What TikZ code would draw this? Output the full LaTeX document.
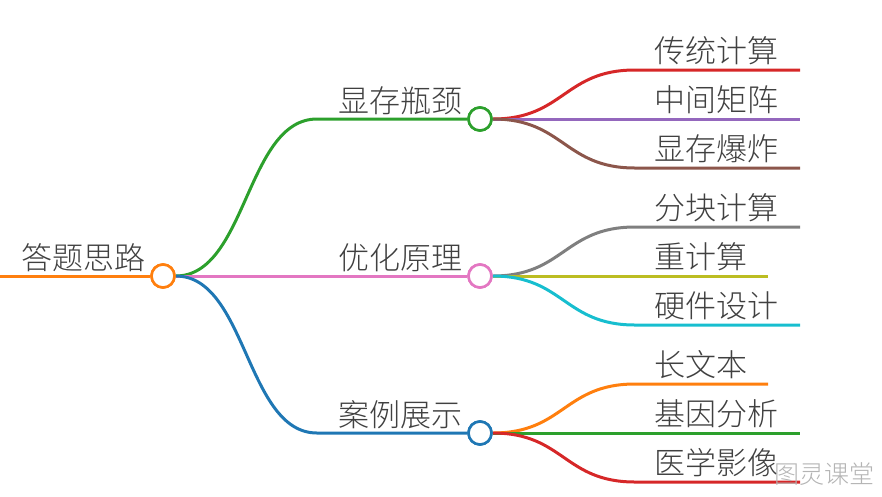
\documentclass[tikz,border=0pt]{standalone}
\usepackage{fontspec}
\newfontfamily\cjk{Noto Sans CJK SC Light}
\definecolor{txtgray}{HTML}{404040}
\definecolor{wmgray}{HTML}{B4B4B4}
\definecolor{tblue}{HTML}{1F77B4}
\definecolor{torange}{HTML}{FF7F0E}
\definecolor{tgreen}{HTML}{2CA02C}
\definecolor{tred}{HTML}{D62728}
\definecolor{tpurple}{HTML}{9467BD}
\definecolor{tbrown}{HTML}{8C564B}
\definecolor{tpink}{HTML}{E377C2}
\definecolor{tgray}{HTML}{7F7F7F}
\definecolor{tolive}{HTML}{BCBD22}
\definecolor{tcyan}{HTML}{17BECF}
\begin{document}
\begin{tikzpicture}[x=1pt,y=-1pt,
  lbl/.style={font=\cjk\fontsize{31}{31}\selectfont, text=txtgray, inner sep=0pt},
  dot/.style={circle, draw=#1, fill=white, line width=2.6pt, minimum size=23pt, inner sep=0pt},
  edgeline/.style={draw=#1, line width=3pt}]
\useasboundingbox (0,0) rectangle (882,496);

% circles
\node[dot=torange] (root) at (163,276) {};
\node[dot=tgreen] (n1) at (480,119) {};
\node[dot=tpink] (n2) at (480,276) {};
\node[dot=tblue] (n3) at (480,433) {};

% coordinates
\coordinate (r0) at (0,276);
\coordinate (c1) at (317,119);
\coordinate (c3) at (317,433);
\foreach \n/\y in {11/70,13/168,21/227,23/325,31/384,33/482}{
  \coordinate (s\n) at (635,\y);
}
\coordinate (e11) at (800,70);
\coordinate (e12) at (800,119);
\coordinate (e13) at (800,168);
\coordinate (e21) at (800,227);
\coordinate (e22) at (768,276);
\coordinate (e23) at (800,325);
\coordinate (e31) at (768,384);
\coordinate (e32) at (800,433);
\coordinate (e33) at (800,482);

% root line
\draw[edgeline=torange] (r0) -- (root.west);
% level 1
\draw[edgeline=tgreen] (root.east) .. controls +(71,0) and +(-71,0) .. (c1) -- (n1.west);
\draw[edgeline=tpink] (root.east) -- (n2.west);
\draw[edgeline=tblue] (root.east) .. controls +(71,0) and +(-71,0) .. (c3) -- (n3.west);
% level 2
\draw[edgeline=tred] (n1.east) .. controls +(71,0) and +(-71,0) .. (s11) -- (e11);
\draw[edgeline=tpurple] (n1.east) -- (e12);
\draw[edgeline=tbrown] (n1.east) .. controls +(71,0) and +(-71,0) .. (s13) -- (e13);
\draw[edgeline=tgray] (n2.east) .. controls +(71,0) and +(-71,0) .. (s21) -- (e21);
\draw[edgeline=tolive] (n2.east) -- (e22);
\draw[edgeline=tcyan] (n2.east) .. controls +(71,0) and +(-71,0) .. (s23) -- (e23);
\draw[edgeline=torange] (n3.east) .. controls +(71,0) and +(-71,0) .. (s31) -- (e31);
\draw[edgeline=tgreen] (n3.east) -- (e32);
\draw[edgeline=tred] (n3.east) .. controls +(71,0) and +(-71,0) .. (s33) -- (e33);

% redraw circles on top
\node[dot=torange] at (root) {};
\node[dot=tgreen] at (n1) {};
\node[dot=tpink] at (n2) {};
\node[dot=tblue] at (n3) {};

% labels
\node[lbl, anchor=base west] (troot) at (21,269) {答题思路};
\node[lbl, anchor=base east] (t1) at (463,112) {显存瓶颈};
\node[lbl, anchor=base east] (t2) at (463,269) {优化原理};
\node[lbl, anchor=base east] (t3) at (463,426) {案例展示};
\node[lbl, anchor=base west] (t11) at (654,62) {传统计算};
\node[lbl, anchor=base west] (t12) at (654,111) {中间矩阵};
\node[lbl, anchor=base west] (t13) at (654,160) {显存爆炸};
\node[lbl, anchor=base west] (t21) at (654,219) {分块计算};
\node[lbl, anchor=base west] (t22) at (654,268) {重计算};
\node[lbl, anchor=base west] (t23) at (654,317) {硬件设计};
\node[lbl, anchor=base west] (t31) at (654,376) {长文本};
\node[lbl, anchor=base west] (t32) at (654,425) {基因分析};
\node[lbl, anchor=base west] (t33) at (654,474) {医学影像};

% watermark
\node[font=\cjk\fontsize{25}{25}\selectfont, text=wmgray, inner sep=0pt] (wm) at (824,474) {图灵课堂};
\end{tikzpicture}
\end{document}
